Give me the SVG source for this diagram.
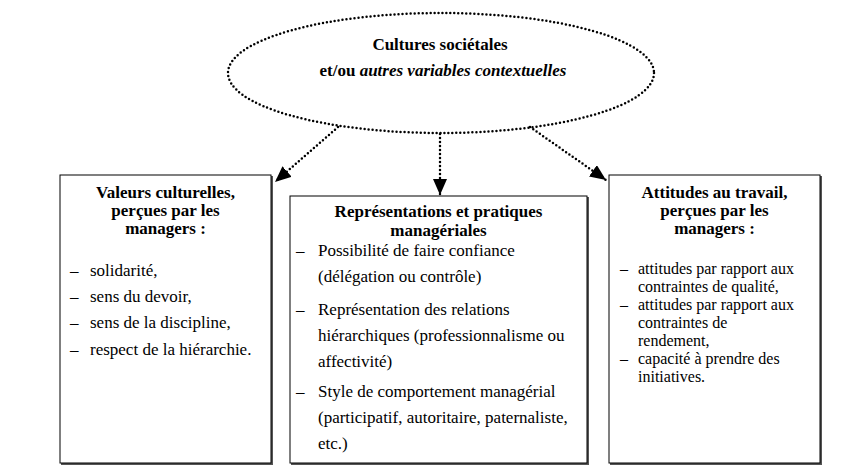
<svg xmlns="http://www.w3.org/2000/svg" width="863" height="473" viewBox="0 0 863 473">
<defs>
<style>
text{font-family:"Liberation Serif","Times New Roman",serif;font-size:17px;fill:#000}
.b{font-weight:bold}
.c{text-anchor:middle}
.s{font-size:16px}
.box{fill:#fff;stroke:#000;stroke-width:1}
.sh{fill:none;stroke:#555;stroke-width:2}
.dot{fill:none;stroke:#000;stroke-width:2.5;stroke-linecap:round;stroke-dasharray:0 4}
</style>
<marker id="ah" viewBox="0 0 16 14" refX="16" refY="7" markerWidth="16" markerHeight="14" markerUnits="userSpaceOnUse" orient="auto">
<path d="M0,0 L16,7 L0,14 Z" fill="#000"/>
</marker>
</defs>
<rect width="863" height="473" fill="#fff"/>
<g id="contexte">
<ellipse class="dot" cx="441" cy="73" rx="213" ry="60"/>
<text class="b c" x="440" y="50">Cultures sociétales</text>
<text class="b c" x="443" y="76">et/ou <tspan font-style="italic">autres variables contextuelles</tspan></text>
</g>
<g id="connecteurs">
<path class="dot" d="M338,127 L275,182" marker-end="url(#ah)"/>
<path class="dot" d="M440,134 L440,195" marker-end="url(#ah)"/>
<path class="dot" d="M530,127 L606,180" marker-end="url(#ah)"/>
</g>
<g id="valeurs">
<path class="sh" d="M272,176 V464 H61"/>
<rect class="box" x="60" y="175" width="211" height="288"/>
<text class="b c" x="165.5" y="198">Valeurs culturelles,</text>
<text class="b c" x="165.5" y="216">perçues par les</text>
<text class="b c" x="165.5" y="234">managers :</text>
<text x="70" y="276">–</text><text x="90" y="276">solidarité,</text>
<text x="70" y="302">–</text><text x="90" y="302">sens du devoir,</text>
<text x="70" y="328">–</text><text x="90" y="328">sens de la discipline,</text>
<text x="70" y="355">–</text><text x="90" y="355">respect de la hiérarchie.</text>
</g>
<g id="representations">
<path class="sh" d="M588,197 V464 H291"/>
<rect class="box" x="290" y="196" width="297" height="267"/>
<text class="b c" x="438.5" y="217">Représentations et pratiques</text>
<text class="b c" x="438.5" y="236">managériales</text>
<text x="296" y="256">–</text><text x="318" y="256">Possibilité de faire confiance</text>
<text x="318" y="282">(délégation ou contrôle)</text>
<text x="296" y="315">–</text><text x="318" y="315">Représentation des relations</text>
<text x="318" y="341">hiérarchiques (professionnalisme ou</text>
<text x="318" y="367">affectivité)</text>
<text x="296" y="397">–</text><text x="318" y="397">Style de comportement managérial</text>
<text x="318" y="423">(participatif, autoritaire, paternaliste,</text>
<text x="318" y="449">etc.)</text>
</g>
<g id="attitudes">
<path class="sh" d="M821,176 V464 H610"/>
<rect class="box" x="609" y="175" width="211" height="288"/>
<text class="b c" x="714.5" y="198">Attitudes au travail,</text>
<text class="b c" x="714.5" y="216">perçues par les</text>
<text class="b c" x="714.5" y="234">managers :</text>
<text class="s" x="620" y="274">–</text><text class="s" x="638" y="274">attitudes par rapport aux</text>
<text class="s" x="638" y="292">contraintes de qualité,</text>
<text class="s" x="620" y="310">–</text><text class="s" x="638" y="310">attitudes par rapport aux</text>
<text class="s" x="638" y="328">contraintes de</text>
<text class="s" x="638" y="346">rendement,</text>
<text class="s" x="620" y="364">–</text><text class="s" x="638" y="364">capacité à prendre des</text>
<text class="s" x="638" y="382">initiatives.</text>
</g>
</svg>
